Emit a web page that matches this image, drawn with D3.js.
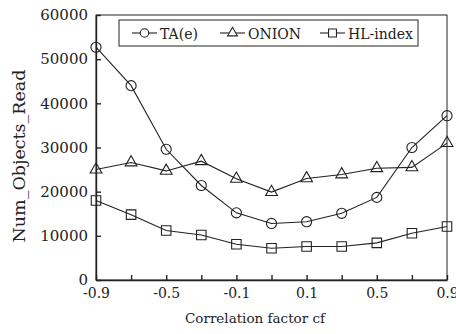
<!DOCTYPE html>
<html>
<head>
<meta charset="utf-8">
<script src="https://cdn.jsdelivr.net/npm/d3@7"></script>
<style>
  body { margin: 0; background: #fff; }
  svg text { fill: #222; }
</style>
</head>
<body>
<main></main>
<script>
// data
const cfValues = ['-0.9', '-0.7', '-0.5', '-0.3', '-0.1', '0', '0.1', '0.3', '0.5', '0.7', '0.9'];
const cfLabels = ['-0.9', '-0.5', '-0.1', '0.1', '0.5', '0.9'];
const yTicks = [0, 10000, 20000, 30000, 40000, 50000, 60000];
const taE = [52700, 44000, 29600, 21400, 15200, 12800, 13200, 15100, 18700, 30000, 37200];
const onion = [25000, 26600, 24700, 26900, 22900, 19900, 23000, 23900, 25300, 25500, 31000];
const hlIndex = [18000, 14800, 11200, 10200, 8100, 7200, 7600, 7600, 8400, 10600, 12100];
const seriesNames = ['TA(e)', 'ONION', 'HL-index'];

!function(){
    var W = 456, H = 334;
    var m = {l: 96, r: 9, t: 15, b: 54};
    var w = W - m.l - m.r, h = H - m.t - m.b;
    var serif = 'DejaVu Serif';

    let svg = d3.select('main').append('svg')
        .attr('width', W)
        .attr('height', H)
        .attr('font-family', serif);

    let x = d3.scalePoint().domain(cfValues).range([0, w]);
    let y = d3.scaleLinear().domain([0, 60000]).range([h, 0]);

    let g = svg.append('g').attr('transform', 'translate(' + m.l + ',' + m.t + ')');

    // frame
    g.append('rect')
        .attr('width', w).attr('height', h)
        .attr('fill', 'none').attr('stroke', '#222').attr('stroke-width', 1);

    let xAxis = d3.axisBottom(x)
        .tickSizeInner(-5).tickSizeOuter(0)
        .tickFormat(d => cfLabels.includes(d) ? d : '');
    let gx = g.append('g')
        .attr('transform', 'translate(0,' + h + ')')
        .call(xAxis)
        .attr('font-family', serif);
    gx.selectAll('text').attr('font-size', 14).attr('dy', 0).attr('y', 18)
        .attr('fill', '#222');

    let yAxis = d3.axisLeft(y).tickValues(yTicks)
        .tickSizeInner(-5).tickSizeOuter(0).tickPadding(8)
        .tickFormat(d3.format('d'));
    let gy = g.append('g').call(yAxis).attr('font-family', serif);
    gy.selectAll('text').attr('font-size', 15).attr('fill', '#222');

    svg.selectAll('.domain, .tick line').attr('stroke', '#222').attr('stroke-width', 1.4);

    // axis titles
    svg.append('text')
        .attr('x', 255).attr('y', 323)
        .attr('text-anchor', 'middle').attr('font-size', 13.5)
        .text('Correlation factor cf');
    svg.append('text')
        .attr('transform', 'translate(25,156) rotate(-90)')
        .attr('text-anchor', 'middle').attr('font-size', 17.5)
        .text('Num_Objects_Read');

    const sym = [d3.symbolCircle, d3.symbolTriangle, d3.symbolSquare];
    const symSize = [80, 60, 90];
    const all = [taE, onion, hlIndex];

    let line = d3.line().x((d, i) => x(cfValues[i])).y(d => y(d));

    all.forEach((vals, k) => {
        g.append('path')
            .attr('d', line(vals))
            .attr('fill', 'none').attr('stroke', '#222').attr('stroke-width', 1.1);
        g.selectAll('.m' + k).data(vals).enter().append('path')
            .attr('transform', (d, i) => 'translate(' + x(cfValues[i]) + ',' + y(d) + ')')
            .attr('d', d3.symbol().type(sym[k]).size(symSize[k]))
            .attr('fill', 'none').attr('stroke', '#222').attr('stroke-width', 1.1);
    });

    // legend
    let lg = svg.append('g');
    lg.append('rect')
        .attr('x', 119).attr('y', 20).attr('width', 299).attr('height', 26)
        .attr('fill', '#fff').attr('stroke', '#222').attr('stroke-width', 1);
    const lx = [132, 220, 320];
    seriesNames.forEach((name, k) => {
        lg.append('line')
            .attr('x1', lx[k]).attr('x2', lx[k] + 25).attr('y1', 33).attr('y2', 33)
            .attr('stroke', '#222').attr('stroke-width', 1.1);
        lg.append('path')
            .attr('transform', 'translate(' + (lx[k] + 12.5) + ',33)')
            .attr('d', d3.symbol().type(sym[k]).size(symSize[k] * 0.7))
            .attr('fill', '#fff').attr('stroke', '#222').attr('stroke-width', 1.1);
        lg.append('text')
            .attr('x', lx[k] + 28).attr('y', 38.5)
            .attr('font-size', 14)
            .text(name);
    });
}();
</script>
</body>
</html>
